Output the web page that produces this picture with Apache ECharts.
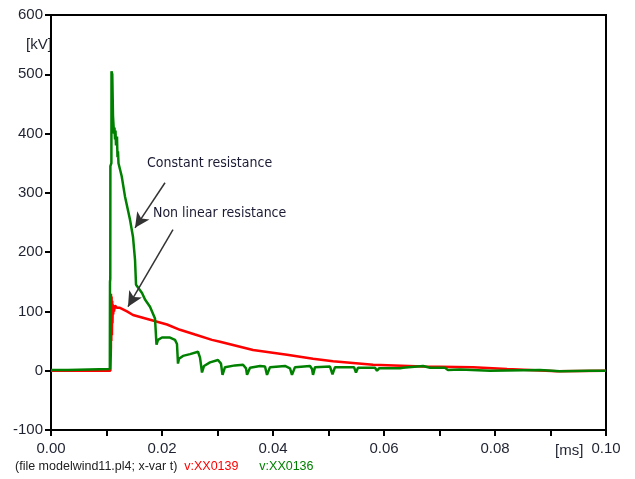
<!DOCTYPE html>
<html><head><meta charset="utf-8">
<script src="https://cdn.jsdelivr.net/npm/echarts@6/dist/echarts.min.js"></script>
<style>html,body{margin:0;padding:0;background:#fff}#c{width:635px;height:479px}</style>
</head><body><div id="c"></div>
<script>
// x values (axis units as labelled) and voltages in kV
const xTicks = [0, 0.02, 0.04, 0.06, 0.08, 0.10];
const yTicks = [-100, 0, 100, 200, 300, 400, 500, 600];

const redT = [0, 0.0107, 0.0108, 0.01081, 0.01087, 0.01092, 0.01098, 0.01103, 0.01108, 0.01114, 0.01121, 0.01128, 0.01135, 0.01153, 0.01189, 0.01243, 0.01369, 0.01477, 0.01784, 0.0209, 0.02324, 0.02595, 0.029, 0.03045, 0.0364, 0.04252, 0.04721, 0.05081, 0.05441, 0.05802, 0.06703, 0.07604, 0.08216, 0.09117, 0.1];
const redV = [0, 0, 40, 130, 50, 125, 60, 118, 80, 112, 95, 110, 100, 110, 106, 106, 100, 94, 86, 78, 69, 61, 52, 49, 35, 27, 20, 16, 13, 10, 7, 6, 3, -1, 0];

const greenT = [0, 0.00306, 0.00307, 0.0106, 0.01063, 0.01068, 0.0107, 0.01088, 0.0109, 0.01104, 0.01117, 0.01135, 0.01144, 0.01153, 0.01162, 0.01171, 0.01189, 0.01198, 0.01207, 0.01216, 0.01274, 0.01333, 0.01423, 0.01477, 0.01514, 0.01532, 0.01568, 0.0164, 0.01694, 0.01784, 0.01874, 0.01892, 0.01901, 0.01928, 0.02, 0.02144, 0.02234, 0.0227, 0.02288, 0.02306, 0.02378, 0.02505, 0.02649, 0.02685, 0.02721, 0.02757, 0.02865, 0.03009, 0.03063, 0.0309, 0.03135, 0.03315, 0.0346, 0.03514, 0.03532, 0.03586, 0.03766, 0.03856, 0.03892, 0.03946, 0.04216, 0.04306, 0.04342, 0.04396, 0.04667, 0.04703, 0.04721, 0.04757, 0.05027, 0.05072, 0.05117, 0.0546, 0.05495, 0.05531, 0.05838, 0.05874, 0.0591, 0.06288, 0.06306, 0.06342, 0.06703, 0.06829, 0.07099, 0.07153, 0.0737, 0.0791, 0.0881, 0.0917, 0.0971, 0.1];
const greenV = [1, 1, 3, 3, 150, 155, 345, 350, 505, 500, 430, 400, 410, 390, 405, 380, 395, 360, 370, 350, 328, 294, 255, 226, 187, 145, 142, 131, 120, 108, 88, 85, 44, 52, 56, 56, 52, 45, 12, 20, 25, 28, 32, 22, -3, 8, 14, 18, 12, -7, 6, 9, 10, 4, -7, 5, 8, 7, -7, 6, 8, 4, -7, 6, 8, 3, -7, 6, 7, -6, 6, 6, -3, 5, 5, 0, 4, 4, 1, 5, 8, 5, 5, 1, 2, 0, 1, -1, 0, 0];

const annotations = ['Constant resistance', 'Non linear resistance'];
// arrow endpoints in data units [x, kV]
const arrow1 = [[0.02054, 317], [0.01514, 241]];
const arrow2 = [[0.02198, 238], [0.01387, 108]];

const zip = (a, b) => a.map((v, i) => [v, b[i]]);
const labelFont = "'Liberation Sans Narrow', 'Liberation Sans', Arial, sans-serif";
const annoFont = "'DejaVu Sans Condensed', 'DejaVu Sans', sans-serif";
const txtColor = '#1f2330';

const chart = echarts.init(document.getElementById('c'), null, {renderer: 'canvas'});
chart.setOption({
  animation: false,
  backgroundColor: '#fff',
  grid: {left: 51, right: 29, top: 15, bottom: 49, show: true, borderColor: '#000', borderWidth: 2, backgroundColor: 'transparent'},
  xAxis: {
    type: 'value', min: xTicks[0], max: xTicks[xTicks.length - 1], interval: 0.01,
    axisLine: {show: true, onZero: false, lineStyle: {color: '#000', width: 2}},
    axisTick: {show: true, length: 6, lineStyle: {color: '#000', width: 2}},
    splitLine: {show: false},
    axisLabel: {
      margin: 11, color: txtColor, fontFamily: labelFont, fontSize: 15, showMaxLabel: true, showMinLabel: true,
      formatter: v => { const k = Math.round(v * 100); return xTicks.some(t => Math.round(t * 100) === k) ? v.toFixed(2) : ''; }
    }
  },
  yAxis: {
    type: 'value', min: yTicks[0], max: yTicks[yTicks.length - 1], interval: 100,
    axisLine: {show: true, onZero: false, lineStyle: {color: '#000', width: 2}},
    axisTick: {show: true, length: 6, lineStyle: {color: '#000', width: 2}},
    splitLine: {show: false},
    axisLabel: {margin: 8, color: txtColor, fontFamily: labelFont, fontSize: 15}
  },
  series: [
    {type: 'line', name: 'v:XX0139', data: zip(redT, redV), showSymbol: false, symbol: 'none',
     lineStyle: {color: '#ff0000', width: 2.5}, z: 2},
    {type: 'line', name: 'v:XX0136', data: zip(greenT, greenV), showSymbol: false, symbol: 'none',
     lineStyle: {color: '#008000', width: 2.5}, z: 3,
     markLine: {
       silent: true, symbol: ['none', 'arrow'], symbolSize: [11, 15],
       lineStyle: {color: '#333', width: 1.5, type: 'solid'}, label: {show: false},
       data: [
         [{coord: arrow1[0]}, {coord: arrow1[1]}],
         [{coord: arrow2[0]}, {coord: arrow2[1]}]
       ]
     }}
  ],
  graphic: [
    {type: 'text', left: 147, top: 156, style: {text: annotations[0], fill: '#1a1a33', font: "14px " + annoFont}},
    {type: 'text', left: 153, top: 206, style: {text: annotations[1], fill: '#1a1a33', font: "14px " + annoFont}},
    {type: 'text', left: 26, top: 37, style: {text: '[kV]', fill: txtColor, font: "15px " + labelFont}},
    {type: 'text', left: 555, top: 443, style: {text: '[ms]', fill: txtColor, font: "15px " + labelFont}},
    {type: 'text', left: 15, top: 460, style: {
      text: '(file modelwind11.pl4; x-var t)  {r|v:XX0139}      {g|v:XX0136}',
      fill: '#222', font: "12.5px " + labelFont,
      rich: {r: {fill: '#ff0000', font: "12.5px " + labelFont}, g: {fill: '#008000', font: "12.5px " + labelFont}}
    }}
  ]
});
</script>
</body></html>
